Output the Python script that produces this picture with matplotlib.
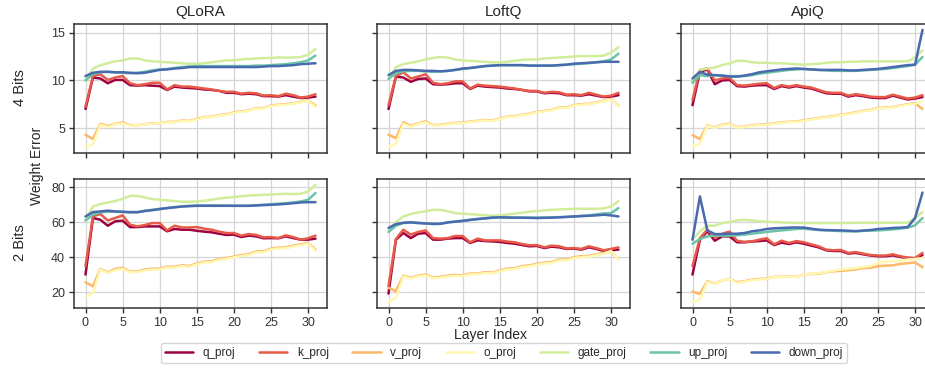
import numpy as np
import matplotlib
matplotlib.use('Agg')
import matplotlib.pyplot as plt
import seaborn as sns

sns.set_style('ticks', {'axes.grid': True})
plt.rcParams['font.family'] = ['Liberation Sans', 'DejaVu Sans']

layers = list(range(32))
methods = ['QLoRA', 'LoftQ', 'ApiQ']
bits = ['4 Bits', '2 Bits']
modules = ['q_proj', 'k_proj', 'v_proj', 'o_proj', 'gate_proj', 'up_proj', 'down_proj']

# ---- 4 bit ----
qlora_4 = {
    'q_proj': [7.0, 10.3, 10.2, 9.7, 10.05, 10.05, 9.5, 9.45, 9.5, 9.45, 9.4, 9.0, 9.35, 9.25, 9.2, 9.15,
               9.05, 9.0, 8.9, 8.7, 8.7, 8.55, 8.6, 8.55, 8.35, 8.35, 8.3, 8.45, 8.3, 8.15, 8.2, 8.3],
    'k_proj': [7.25, 10.45, 10.65, 10.05, 10.3, 10.45, 9.7, 9.5, 9.6, 9.75, 9.75, 9.05, 9.5, 9.35, 9.35, 9.25,
               9.15, 9.05, 8.9, 8.8, 8.8, 8.6, 8.7, 8.65, 8.4, 8.45, 8.35, 8.6, 8.45, 8.2, 8.3, 8.55],
    'v_proj': [4.3, 3.85, 5.45, 5.2, 5.45, 5.6, 5.3, 5.3, 5.4, 5.5, 5.5, 5.65, 5.65, 5.8, 5.75, 5.95,
               6.15, 6.2, 6.35, 6.45, 6.65, 6.75, 6.85, 7.1, 7.1, 7.35, 7.45, 7.5, 7.6, 7.75, 7.9, 7.35],
    'o_proj': [3.0, 3.3, 5.35, 5.1, 5.4, 5.5, 5.25, 5.3, 5.4, 5.45, 5.5, 5.6, 5.6, 5.75, 5.7, 5.9,
               6.1, 6.15, 6.3, 6.4, 6.6, 6.7, 6.8, 7.05, 7.05, 7.3, 7.4, 7.45, 7.55, 7.7, 7.85, 7.2],
    'gate_proj': [10.0, 11.25, 11.6, 11.8, 12.0, 12.1, 12.3, 12.3, 12.1, 12.0, 11.95, 11.9, 11.85, 11.8, 11.75, 11.75,
                  11.8, 11.9, 12.0, 12.1, 12.1, 12.2, 12.25, 12.3, 12.35, 12.35, 12.4, 12.4, 12.4, 12.45, 12.7, 13.3],
    'up_proj': [10.0, 10.65, 10.85, 10.9, 10.85, 10.8, 10.75, 10.8, 10.9, 11.05, 11.15, 11.2, 11.3, 11.4, 11.45, 11.5,
                11.5, 11.5, 11.5, 11.5, 11.5, 11.5, 11.5, 11.55, 11.55, 11.6, 11.65, 11.7, 11.8, 11.9, 12.1, 12.6],
    'down_proj': [10.45, 10.8, 10.9, 10.9, 10.85, 10.85, 10.8, 10.75, 10.8, 10.95, 11.1, 11.15, 11.25, 11.3, 11.4, 11.4,
                  11.4, 11.4, 11.4, 11.4, 11.4, 11.4, 11.4, 11.4, 11.45, 11.5, 11.5, 11.55, 11.6, 11.7, 11.75, 11.8],
}
loftq_4 = {
    'q_proj': [7.0, 10.4, 10.3, 9.85, 10.15, 10.2, 9.6, 9.55, 9.6, 9.7, 9.7, 9.1, 9.45, 9.35, 9.3, 9.25,
               9.15, 9.1, 9.0, 8.85, 8.85, 8.65, 8.7, 8.65, 8.45, 8.45, 8.4, 8.55, 8.4, 8.25, 8.3, 8.45],
    'k_proj': [7.4, 10.45, 10.85, 10.2, 10.4, 10.65, 9.75, 9.6, 9.7, 9.9, 9.9, 9.15, 9.55, 9.45, 9.4, 9.35,
               9.25, 9.15, 9.0, 8.9, 8.9, 8.7, 8.8, 8.75, 8.5, 8.55, 8.45, 8.7, 8.5, 8.3, 8.4, 8.7],
    'v_proj': [4.3, 3.95, 5.6, 5.25, 5.5, 5.7, 5.3, 5.35, 5.45, 5.55, 5.55, 5.7, 5.75, 5.85, 5.8, 6.0,
               6.2, 6.25, 6.4, 6.5, 6.7, 6.8, 6.9, 7.15, 7.15, 7.4, 7.5, 7.55, 7.7, 7.85, 8.05, 7.3],
    'o_proj': [3.0, 3.35, 5.45, 5.15, 5.45, 5.6, 5.25, 5.3, 5.4, 5.5, 5.5, 5.65, 5.7, 5.8, 5.75, 5.95,
               6.15, 6.2, 6.35, 6.45, 6.65, 6.75, 6.85, 7.1, 7.1, 7.35, 7.45, 7.5, 7.65, 7.8, 8.0, 7.25],
    'gate_proj': [10.15, 11.4, 11.7, 11.85, 12.0, 12.2, 12.35, 12.45, 12.4, 12.2, 12.1, 12.05, 12.0, 11.95, 11.9, 11.9,
                  11.95, 12.05, 12.15, 12.2, 12.2, 12.3, 12.35, 12.4, 12.45, 12.5, 12.55, 12.55, 12.55, 12.6, 12.9, 13.5],
    'up_proj': [10.15, 10.75, 10.95, 11.0, 11.0, 10.95, 10.9, 10.95, 11.0, 11.1, 11.2, 11.3, 11.4, 11.5, 11.55, 11.6,
                11.6, 11.6, 11.6, 11.55, 11.55, 11.55, 11.55, 11.6, 11.65, 11.7, 11.75, 11.8, 11.9, 12.0, 12.2, 12.8],
    'down_proj': [10.55, 11.0, 11.1, 11.1, 11.05, 11.0, 11.0, 10.95, 11.0, 11.1, 11.25, 11.3, 11.4, 11.5, 11.55, 11.6,
                  11.6, 11.6, 11.6, 11.55, 11.55, 11.55, 11.55, 11.6, 11.65, 11.75, 11.8, 11.85, 11.9, 11.95, 11.95, 11.95],
}
apiq_4 = {
    'q_proj': [7.4, 10.9, 11.15, 9.6, 10.0, 10.05, 9.4, 9.35, 9.45, 9.5, 9.5, 9.1, 9.4, 9.25, 9.4, 9.25,
               9.15, 8.9, 8.65, 8.6, 8.6, 8.3, 8.45, 8.35, 8.2, 8.15, 8.15, 8.4, 8.2, 8.0, 8.1, 8.25],
    'k_proj': [7.95, 11.1, 11.25, 10.0, 10.2, 10.25, 9.5, 9.45, 9.55, 9.65, 9.7, 9.2, 9.5, 9.35, 9.5, 9.35,
               9.25, 9.0, 8.75, 8.7, 8.7, 8.4, 8.55, 8.45, 8.3, 8.25, 8.25, 8.5, 8.3, 8.1, 8.2, 8.45],
    'v_proj': [4.25, 3.85, 5.3, 5.05, 5.35, 5.45, 5.1, 5.15, 5.3, 5.35, 5.4, 5.5, 5.6, 5.65, 5.7, 5.8,
               5.95, 6.05, 6.15, 6.25, 6.4, 6.5, 6.65, 6.8, 6.9, 7.1, 7.15, 7.2, 7.35, 7.5, 7.6, 7.0],
    'o_proj': [3.1, 3.35, 5.25, 5.0, 5.3, 5.4, 5.05, 5.1, 5.25, 5.3, 5.35, 5.45, 5.55, 5.6, 5.65, 5.75,
               5.9, 6.0, 6.1, 6.2, 6.35, 6.45, 6.6, 6.75, 6.85, 7.05, 7.1, 7.15, 7.3, 7.45, 7.55, 7.8],
    'gate_proj': [9.85, 11.1, 11.25, 11.35, 11.6, 11.8, 12.05, 12.05, 11.9, 11.85, 11.85, 11.8, 11.8, 11.75, 11.7, 11.65,
                  11.7, 11.75, 11.85, 11.9, 11.9, 11.95, 11.95, 12.0, 12.0, 12.0, 12.0, 12.0, 12.0, 12.0, 12.4, 13.15],
    'up_proj': [9.75, 10.55, 10.45, 10.55, 10.5, 10.45, 10.45, 10.45, 10.55, 10.7, 10.8, 10.9, 11.0, 11.1, 11.15, 11.2,
                11.15, 11.1, 11.05, 11.0, 11.0, 11.0, 11.0, 11.05, 11.1, 11.15, 11.2, 11.3, 11.4, 11.5, 11.65, 12.45],
    'down_proj': [10.2, 10.9, 10.6, 10.55, 10.5, 10.4, 10.4, 10.5, 10.65, 10.85, 10.95, 11.05, 11.15, 11.2, 11.25, 11.2,
                  11.15, 11.1, 11.1, 11.1, 11.1, 11.05, 11.05, 11.1, 11.15, 11.2, 11.3, 11.4, 11.5, 11.6, 11.65, 15.3],
}

# ---- 2 bit ----
qlora_2 = {
    'q_proj': [30.1, 62.5, 61.5, 58.1, 60.6, 61.0, 57.3, 57.3, 57.7, 57.7, 57.7, 54.9, 56.2, 55.8, 55.8, 55.2,
               54.7, 54.3, 53.5, 52.8, 53.0, 51.6, 52.4, 52.0, 50.9, 51.0, 50.9, 52.0, 51.0, 50.1, 50.1, 50.7],
    'k_proj': [34.9, 63.4, 64.8, 61.1, 62.5, 64.0, 58.7, 57.7, 58.5, 59.6, 59.6, 55.4, 58.1, 57.1, 57.1, 57.3,
               56.4, 55.8, 54.7, 53.9, 53.9, 52.4, 53.3, 52.8, 51.4, 51.6, 51.0, 52.6, 51.6, 50.1, 50.9, 52.4],
    'v_proj': [25.7, 23.4, 33.3, 31.4, 33.3, 33.9, 31.8, 32.0, 33.0, 33.5, 33.5, 34.7, 34.5, 35.4, 35.0, 36.4,
               37.5, 37.7, 39.0, 39.6, 40.4, 41.3, 41.7, 43.4, 43.4, 45.0, 45.5, 45.7, 46.7, 47.4, 48.2, 44.4],
    'o_proj': [17.1, 19.6, 32.9, 31.0, 32.6, 33.3, 31.4, 31.6, 32.4, 33.0, 33.0, 34.2, 34.0, 34.9, 34.5, 35.9,
               37.0, 37.2, 38.5, 39.1, 39.9, 40.8, 41.2, 42.9, 42.9, 44.5, 45.0, 45.2, 46.2, 46.9, 47.8, 43.8],
    'gate_proj': [61.5, 69.1, 70.5, 71.4, 72.2, 73.5, 75.2, 75.2, 74.3, 73.3, 73.0, 72.6, 72.2, 71.8, 71.8, 72.0,
                  72.4, 73.0, 73.7, 74.1, 74.5, 75.0, 75.4, 75.6, 75.8, 76.0, 76.2, 76.4, 76.2, 76.4, 77.7, 81.5],
    'up_proj': [61.1, 64.4, 65.7, 66.1, 66.1, 65.9, 65.7, 65.7, 66.7, 67.2, 67.8, 68.2, 68.8, 69.1, 69.5, 69.7,
                69.7, 69.7, 69.7, 69.6, 69.5, 69.5, 69.5, 69.8, 70.1, 70.4, 70.7, 71.0, 71.4, 72.0, 73.0, 76.8],
    'down_proj': [63.4, 65.9, 66.3, 66.7, 66.3, 66.1, 65.9, 65.9, 66.5, 67.0, 67.6, 68.2, 68.6, 69.1, 69.3, 69.5,
                  69.5, 69.5, 69.5, 69.5, 69.5, 69.5, 69.5, 69.7, 69.9, 70.1, 70.3, 70.6, 71.0, 71.4, 71.6, 71.6],
}
loftq_2 = {
    'q_proj': [19.2, 50.1, 53.9, 51.0, 53.5, 53.9, 50.1, 50.1, 50.7, 51.0, 51.0, 48.2, 49.7, 49.3, 49.1, 48.8,
               48.2, 47.8, 47.0, 46.3, 46.5, 45.3, 46.1, 45.7, 44.8, 45.0, 44.4, 45.7, 44.8, 43.6, 44.0, 44.4],
    'k_proj': [23.4, 50.5, 55.8, 53.0, 54.5, 55.4, 51.0, 50.7, 51.0, 52.2, 52.2, 48.6, 50.7, 49.7, 49.7, 49.7,
               49.0, 48.6, 47.6, 46.9, 47.0, 45.7, 46.7, 46.3, 45.1, 45.3, 44.8, 46.3, 45.3, 44.0, 44.8, 45.7],
    'v_proj': [22.5, 20.6, 29.5, 28.2, 29.5, 30.1, 28.4, 28.8, 29.5, 29.9, 29.7, 30.7, 30.7, 31.4, 31.2, 32.4,
               33.5, 33.7, 34.9, 35.4, 36.2, 37.0, 37.3, 38.7, 38.7, 40.0, 40.6, 40.8, 41.7, 42.5, 43.2, 39.0],
    'o_proj': [14.3, 16.8, 29.1, 27.8, 29.1, 29.6, 28.0, 28.3, 29.0, 29.4, 29.3, 30.2, 30.3, 30.9, 30.8, 31.9,
               33.0, 33.2, 34.4, 34.9, 35.7, 36.5, 36.8, 38.2, 38.2, 39.5, 40.1, 40.3, 41.2, 42.0, 43.6, 38.7],
    'gate_proj': [54.9, 60.2, 63.4, 64.8, 65.7, 66.3, 67.2, 67.2, 66.3, 65.3, 65.0, 64.7, 64.4, 64.1, 63.8, 64.0,
                  64.5, 65.0, 65.6, 66.1, 66.5, 66.9, 67.2, 67.4, 67.6, 67.8, 67.8, 67.8, 67.8, 68.0, 69.1, 72.2],
    'up_proj': [54.5, 58.1, 59.6, 60.0, 59.8, 59.4, 59.0, 59.2, 60.0, 60.5, 61.0, 61.5, 61.9, 62.3, 62.7, 62.9,
                62.8, 62.7, 62.7, 62.7, 62.7, 62.8, 62.9, 63.0, 63.2, 63.4, 63.7, 64.0, 64.6, 65.1, 65.3, 68.2],
    'down_proj': [56.8, 59.0, 59.8, 60.0, 59.6, 59.4, 59.2, 59.2, 60.0, 60.4, 60.8, 61.4, 61.9, 62.3, 62.7, 62.9,
                  62.8, 62.7, 62.7, 62.6, 62.5, 62.6, 62.7, 62.9, 63.1, 63.4, 63.6, 63.8, 64.0, 64.4, 64.0, 63.4],
}
apiq_2 = {
    'q_proj': [30.1, 50.1, 54.9, 49.5, 52.0, 52.0, 48.6, 48.6, 49.0, 49.3, 49.7, 47.0, 48.4, 47.6, 48.6, 47.8,
               46.7, 45.7, 44.0, 43.6, 43.6, 42.1, 42.5, 41.7, 41.0, 40.6, 40.6, 41.1, 40.2, 39.6, 39.4, 41.3],
    'k_proj': [34.9, 51.0, 55.8, 51.4, 53.5, 54.7, 49.5, 48.8, 49.1, 50.1, 50.9, 47.4, 49.5, 48.2, 49.3, 48.6,
               47.4, 46.3, 44.4, 44.0, 44.2, 42.5, 43.0, 42.1, 41.3, 41.0, 41.0, 41.7, 40.6, 39.8, 39.6, 42.5],
    'v_proj': [20.4, 19.0, 26.3, 25.0, 26.7, 27.6, 25.7, 26.3, 27.2, 27.6, 27.8, 28.8, 28.8, 29.1, 28.8, 30.1,
               30.5, 30.5, 31.4, 32.0, 32.2, 32.6, 33.0, 33.9, 33.9, 34.9, 35.2, 35.4, 36.2, 36.6, 37.1, 34.3],
    'o_proj': [14.3, 15.8, 25.9, 24.8, 26.7, 27.6, 25.3, 26.0, 26.9, 27.3, 27.6, 28.6, 28.6, 29.0, 28.7, 30.0,
               30.6, 30.8, 31.6, 32.3, 33.0, 33.4, 33.8, 34.6, 34.9, 37.1, 37.4, 37.7, 38.2, 38.7, 39.0, 39.6],
    'gate_proj': [50.1, 54.9, 58.1, 58.1, 59.6, 60.2, 61.1, 61.5, 61.1, 60.6, 60.4, 60.2, 60.0, 59.8, 59.7, 59.6,
                  59.6, 59.6, 59.6, 59.6, 59.6, 59.7, 59.7, 59.8, 59.8, 59.8, 59.8, 59.8, 59.8, 59.8, 62.5, 65.9],
    'up_proj': [47.8, 50.5, 52.0, 52.4, 52.4, 52.4, 52.6, 53.0, 53.5, 54.0, 54.5, 55.0, 55.4, 55.8, 56.2, 56.4,
                56.0, 55.6, 55.4, 55.2, 55.0, 54.9, 54.9, 55.1, 55.3, 55.4, 55.7, 56.0, 56.4, 57.0, 58.3, 62.5],
    'down_proj': [50.1, 74.9, 55.4, 53.3, 53.3, 53.5, 53.5, 53.9, 54.9, 55.4, 56.2, 56.6, 56.8, 57.0, 57.1, 57.0,
                  56.4, 55.8, 55.6, 55.5, 55.4, 55.2, 55.0, 55.3, 55.6, 56.2, 56.5, 56.8, 57.0, 57.3, 62.5, 77.1],
}

panels = [[qlora_4, loftq_4, apiq_4], [qlora_2, loftq_2, apiq_2]]
colors = plt.cm.Spectral(np.linspace(0, 0.95, len(modules)))

W, H = 925, 368
fig = plt.figure(figsize=(W / 100, H / 100), dpi=100)
lefts = [74, 377, 681]
pw = 253
tops = [24, 179]
ph = 129

axes = [[None] * 3 for _ in range(2)]
for r in range(2):
    for c in range(3):
        kw = {}
        if c > 0:
            kw['sharey'] = axes[r][0]
        if r > 0:
            kw['sharex'] = axes[0][c]
        ax = fig.add_axes([lefts[c] / W, 1 - (tops[r] + ph) / H, pw / W, ph / H], **kw)
        axes[r][c] = ax
        data = panels[r][c]
        for m, col in zip(modules, colors):
            ax.plot(layers, data[m], color=col, lw=1.8, label=m)
        ax.grid(True, color='#d5d5d5', lw=0.9)
        for s in ax.spines.values():
            s.set_color('#333333')
            s.set_linewidth(1.1)
        ax.tick_params(labelsize=9, colors='#333333', length=3.5, width=1.0, pad=3)
        ax.set_xticks([0, 5, 10, 15, 20, 25, 30])
        if r == 0:
            ax.set_title(methods[c], fontsize=11, pad=6)
            ax.tick_params(labelbottom=False)
        if c > 0:
            ax.tick_params(labelleft=False)

axes[0][0].set_yticks([5, 10, 15])
axes[1][0].set_yticks([20, 40, 60, 80])

fig.text(20 / W, 1 - 88 / H, bits[0], rotation=90, ha='center', va='center', fontsize=10.5)
fig.text(20 / W, 1 - 243 / H, bits[1], rotation=90, ha='center', va='center', fontsize=10.5)
fig.text(37 / W, 1 - 166 / H, 'Weight Error', rotation=90, ha='center', va='center', fontsize=10)
fig.text(490 / W, 1 - 335 / H, 'Layer Index', ha='center', va='center', fontsize=10)

handles, labels = axes[0][0].get_legend_handles_labels()
fig.legend(handles, labels, loc='center', bbox_to_anchor=(504 / W, 1 - 353 / H), ncol=7,
           fontsize=8.5, frameon=True, handlelength=2.4, columnspacing=2.0,
           borderpad=0.35)

fig.savefig('out.png', dpi=100)
